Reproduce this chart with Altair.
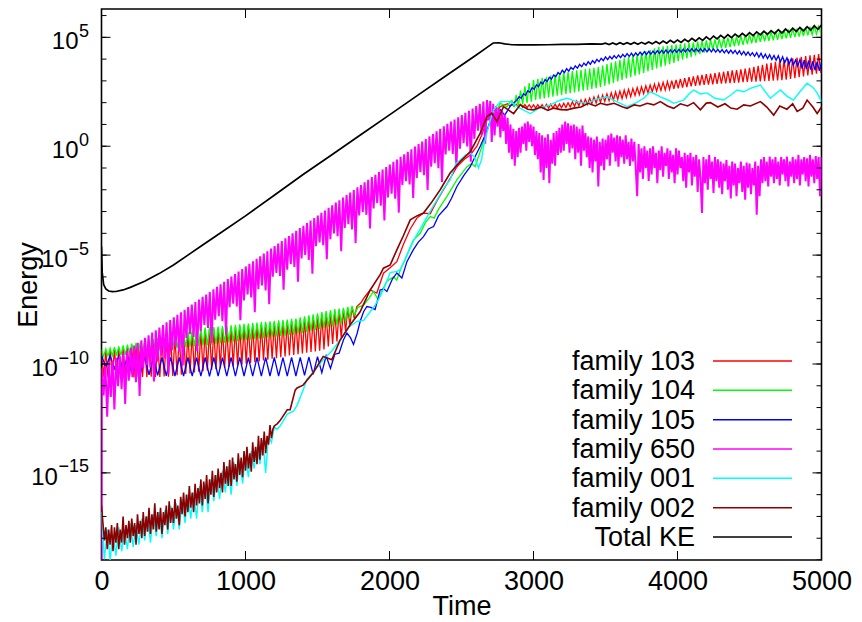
import altair as alt
import numpy as np
import pandas as pd

FONT = "Liberation Sans"

# ---------------- data: log10(Energy) ----------------
SERIES = ["family 103", "family 104", "family 105", "family 650",
          "family 001", "family 002", "Total KE"]
COLORS = ["#ff0000", "#00ff00", "#0000ff", "#ff00ff", "#00ffff", "#8b0000", "#000000"]
WIDTHS = [1.3, 1.3, 1.3, 2.0, 1.4, 1.6, 1.7]

# --- Total KE ---
ke_t = [0, 5, 15, 30, 50, 75, 100, 150, 200, 300,
        400, 500, 600, 700, 800, 1000, 1200, 1400, 1600, 1800,
        2000, 2200, 2400, 2600, 2680, 2720, 2760, 2800, 2850, 2900,
        3000, 3100, 3200, 3300, 3400, 3475]
ke_v = [-4.6, -5.8, -6.35, -6.55, -6.65, -6.68, -6.67, -6.6, -6.48, -6.2,
        -5.85, -5.45, -5.0, -4.55, -4.1, -3.2, -2.25, -1.3, -0.39, 0.53,
        1.44, 2.36, 3.27, 4.18, 4.55, 4.74, 4.75, 4.70, 4.66, 4.65,
        4.65, 4.66, 4.68, 4.68, 4.70, 4.69]
ke_late_v = [4.73, 4.67, 4.74, 4.67, 4.75, 4.68, 4.75, 4.68, 4.76, 4.68,
             4.77, 4.69, 4.79, 4.70, 4.81, 4.71, 4.83, 4.73, 4.86, 4.75,
             4.88, 4.77, 4.91, 4.80, 4.95, 4.83, 4.98, 4.86, 5.02, 4.89,
             5.06, 4.93, 5.09, 4.96, 5.12, 4.99, 5.15, 5.02, 5.18, 5.05,
             5.22, 5.08, 5.25, 5.11, 5.28, 5.14, 5.31, 5.17, 5.35, 5.20,
             5.38, 5.23, 5.42, 5.27, 5.45, 5.30, 5.49, 5.33, 5.53, 5.37, 5.56]

# --- family 104 (green) ---
g_early_v = [-9.35, -9.64, -9.31, -9.63, -9.27, -9.62, -9.23, -9.61, -9.19, -9.60,
             -9.15, -9.58, -9.11, -9.56, -9.07, -9.53, -9.03, -9.50, -8.99, -9.47,
             -8.95, -9.44, -8.90, -9.42, -8.86, -9.40, -8.81, -9.37, -8.77, -9.35,
             -8.72, -9.33, -8.68, -9.31, -8.63, -9.28, -8.59, -9.26, -8.54, -9.24,
             -8.50, -9.22, -8.46, -9.19, -8.41, -9.17, -8.37, -9.15, -8.33, -9.13,
             -8.32, -9.11, -8.30, -9.08, -8.28, -9.06, -8.26, -9.03, -8.24, -9.01,
             -8.22, -8.98, -8.20, -8.96, -8.18, -8.93, -8.16, -8.91, -8.14, -8.88,
             -8.12, -8.86, -8.10, -8.84, -8.08, -8.81, -8.06, -8.79, -8.04, -8.77,
             -8.02, -8.74, -8.00, -8.72, -7.98, -8.70, -7.96, -8.67, -7.93, -8.65,
             -7.91, -8.61, -7.86, -8.57, -7.81, -8.53, -7.76, -8.48, -7.72, -8.44,
             -7.67, -8.40, -7.62, -8.35, -7.57, -8.31, -7.53, -8.27, -7.48, -8.22,
             -7.45, -8.15, -7.42, -8.05, -7.38, -7.90, -7.33, -7.75]
g_mid_t = [1780, 1820, 1860, 1889, 1922, 1950, 1982, 2028, 2050, 2080,
           2109, 2140, 2167, 2213, 2250, 2283, 2310, 2340, 2399, 2468,
           2538, 2570, 2595, 2642, 2700, 2723, 2770, 2815, 2835]
g_mid_v = [-7.4, -7.3, -6.95, -6.67, -7.05, -6.6, -6.2, -6.0, -6.15, -5.6,
           -5.2, -4.7, -4.3, -4.0, -3.5, -3.23, -3.3, -2.9, -2.3, -1.55,
           -0.94, -0.8, -0.94, 0.0, 1.2, 1.36, 1.97, 1.82, 2.0]
g_late_v = [2.10, 1.80, 2.35, 1.85, 2.55, 1.92, 2.75, 1.98, 2.90, 2.05,
            3.04, 2.12, 3.09, 2.16, 3.14, 2.20, 3.19, 2.24, 3.24, 2.28,
            3.29, 2.32, 3.34, 2.36, 3.39, 2.40, 3.42, 2.44, 3.45, 2.47,
            3.48, 2.51, 3.51, 2.55, 3.54, 2.59, 3.57, 2.63, 3.60, 2.67,
            3.64, 2.71, 3.70, 2.78, 3.77, 2.84, 3.84, 2.91, 3.90, 2.97,
            3.97, 3.04, 4.04, 3.11, 4.10, 3.17, 4.17, 3.24, 4.23, 3.30,
            4.30, 3.37, 4.37, 3.44, 4.43, 3.50, 4.50, 3.57, 4.57, 3.64,
            4.59, 3.70, 4.61, 3.77, 4.64, 3.83, 4.67, 3.90, 4.69, 3.97,
            4.72, 4.03, 4.75, 4.10, 4.77, 4.17, 4.80, 4.23, 4.83, 4.30,
            4.86, 4.37, 4.88, 4.43, 4.91, 4.46, 4.94, 4.49, 4.96, 4.52,
            4.99, 4.55, 5.02, 4.59, 5.04, 4.62, 5.07, 4.65, 5.10, 4.69,
            5.12, 4.72, 5.15, 4.75, 5.18, 4.79, 5.20, 4.82, 5.23, 4.84,
            5.25, 4.86, 5.28, 4.89, 5.30, 4.92, 5.33, 4.95, 5.36, 4.98,
            5.38, 5.01, 5.41, 5.03, 5.43, 5.06, 5.46, 5.09, 5.49, 5.12,
            5.51, 5.15, 5.55, 5.18]

# --- family 103 (red) ---
r_early_v = [-9.45, -10.58, -9.41, -10.62, -9.37, -10.60, -9.33, -10.57, -9.29, -10.61,
             -9.25, -10.60, -9.21, -10.58, -9.17, -10.62, -9.13, -10.59, -9.09, -10.60,
             -9.05, -10.61, -9.00, -10.58, -8.96, -10.60, -8.91, -10.59, -8.87, -10.57,
             -8.82, -10.58, -8.78, -10.55, -8.73, -10.52, -8.69, -10.49, -8.64, -10.46,
             -8.60, -10.43, -8.56, -10.39, -8.51, -10.36, -8.47, -10.33, -8.43, -10.30,
             -8.42, -10.27, -8.40, -10.24, -8.38, -10.20, -8.36, -10.17, -8.34, -10.14,
             -8.32, -10.11, -8.30, -10.07, -8.28, -10.03, -8.26, -9.99, -8.24, -9.95,
             -8.22, -9.92, -8.20, -9.88, -8.18, -9.84, -8.16, -9.80, -8.14, -9.76,
             -8.12, -9.73, -8.10, -9.69, -8.08, -9.65, -8.06, -9.61, -8.03, -9.58,
             -8.01, -9.55, -7.96, -9.52, -7.91, -9.48, -7.86, -9.45, -7.82, -9.42,
             -7.77, -9.39, -7.72, -9.33, -7.67, -9.20, -7.63, -9.08, -7.58, -8.96,
             -7.55, -8.80, -7.50, -8.50, -7.45, -8.20, -7.40, -7.90]
r_mid_t = [1773, 1800, 1830, 1866, 1912, 1958, 2000, 2051, 2097, 2144,
           2190, 2236, 2283, 2330, 2375, 2420, 2468, 2520, 2561, 2607,
           2640, 2677, 2720, 2770, 2800]
r_mid_v = [-7.36, -7.2, -6.9, -6.6, -6.74, -5.83, -5.6, -5.3, -4.5, -3.8,
           -3.3, -3.07, -3.1, -2.5, -2.0, -1.5, -0.94, -0.6, -0.4, 0.0,
           0.5, 1.2, 1.6, 1.82, 1.9]
r_late_v = [1.95, 1.84, 1.94, 1.82, 1.93, 1.80, 1.92, 1.78, 1.91, 1.77,
            1.90, 1.76, 1.90, 1.75, 1.91, 1.75, 1.91, 1.75, 1.92, 1.75,
            1.93, 1.75, 1.93, 1.75, 1.94, 1.76, 1.97, 1.78, 2.00, 1.80,
            2.04, 1.83, 2.08, 1.86, 2.12, 1.89, 2.16, 1.92, 2.21, 1.96,
            2.26, 1.99, 2.31, 2.02, 2.35, 2.06, 2.40, 2.09, 2.45, 2.12,
            2.49, 2.15, 2.53, 2.19, 2.57, 2.24, 2.61, 2.28, 2.65, 2.33,
            2.69, 2.37, 2.73, 2.41, 2.77, 2.46, 2.81, 2.50, 2.85, 2.53,
            2.89, 2.56, 2.93, 2.58, 2.97, 2.61, 3.01, 2.64, 3.05, 2.66,
            3.09, 2.69, 3.13, 2.72, 3.17, 2.75, 3.21, 2.77, 3.25, 2.80,
            3.28, 2.82, 3.31, 2.83, 3.33, 2.84, 3.36, 2.86, 3.39, 2.87,
            3.42, 2.88, 3.45, 2.90, 3.48, 2.91, 3.50, 2.92, 3.53, 2.94,
            3.56, 2.95, 3.60, 2.96, 3.64, 2.97, 3.69, 2.98, 3.74, 2.99,
            3.79, 3.00, 3.83, 3.01, 3.88, 3.02, 3.93, 3.03, 3.97, 3.05,
            4.01, 3.09, 4.04, 3.13, 4.07, 3.17, 4.11, 3.21, 4.14, 3.25,
            4.17, 3.29, 4.20, 3.33, 4.23, 3.37]

# --- family 105 (blue) ---
b_early_v = [-9.60, -10.15, -9.62, -10.22, -9.64, -10.30, -9.66, -10.38, -9.68, -10.45,
             -9.68, -10.50, -9.69, -10.52, -9.70, -10.54, -9.70, -10.55, -9.70, -10.56,
             -9.70, -10.56, -9.71, -10.56, -9.70, -10.57, -9.70, -10.56, -9.71, -10.56,
             -9.70, -10.56, -9.70, -10.55, -9.71, -10.56, -9.70, -10.56, -9.70, -10.55,
             -9.70, -10.56, -9.71, -10.56, -9.70, -10.55, -9.70, -10.52, -9.68, -10.48,
             -9.66, -10.40, -9.62, -10.20, -9.55]
b_mid_t = [1650, 1680, 1704, 1730, 1750, 1775, 1796, 1820, 1843, 1870,
           1900, 1935, 1960, 1982, 2020, 2051, 2086, 2121, 2165, 2200,
           2236, 2270, 2306, 2340, 2399, 2430, 2468, 2520, 2561, 2600,
           2630, 2670, 2700, 2723, 2770, 2800, 2840, 2885]
b_mid_v = [-9.5, -8.9, -8.58, -8.8, -9.1, -8.6, -8.05, -7.6, -7.36, -7.4,
           -7.5, -6.6, -6.55, -6.67, -6.1, -5.82, -6.05, -5.3, -4.76, -4.4,
           -4.15, -3.8, -3.69, -3.2, -2.77, -2.4, -1.85, -1.3, -0.94, -0.4,
           0.0, 0.6, 1.15, 1.3, 1.67, 1.43, 1.85, 2.12]
b_late_v = [2.27, 2.20, 2.41, 2.34, 2.55, 2.48, 2.69, 2.62, 2.82, 2.73,
            2.95, 2.86, 3.06, 2.97, 3.17, 3.08, 3.27, 3.19, 3.38, 3.30,
            3.49, 3.38, 3.56, 3.45, 3.62, 3.52, 3.69, 3.58, 3.76, 3.65,
            3.82, 3.71, 3.88, 3.76, 3.93, 3.82, 3.99, 3.88, 4.04, 3.93,
            4.10, 3.98, 4.13, 4.01, 4.16, 4.04, 4.19, 4.07, 4.22, 4.10,
            4.25, 4.12, 4.27, 4.14, 4.29, 4.17, 4.32, 4.19, 4.34, 4.21,
            4.36, 4.23, 4.37, 4.24, 4.39, 4.26, 4.40, 4.27, 4.42, 4.28,
            4.43, 4.30, 4.44, 4.31, 4.45, 4.32, 4.46, 4.33, 4.47, 4.34,
            4.48, 4.34, 4.48, 4.34, 4.48, 4.34, 4.48, 4.33, 4.48, 4.33,
            4.47, 4.32, 4.45, 4.31, 4.44, 4.29, 4.42, 4.27, 4.41, 4.26,
            4.40, 4.23, 4.38, 4.20, 4.35, 4.18, 4.33, 4.16, 4.30, 4.13,
            4.30, 4.08, 4.27, 4.05, 4.23, 4.02, 4.20, 3.98, 4.17, 3.95,
            4.16, 3.88, 4.11, 3.83, 4.06, 3.78, 4.01, 3.73, 3.96, 3.68,
            3.98, 3.57, 3.95, 3.54, 3.93, 3.52, 3.90, 3.49, 3.88, 3.46,
            3.85]

# --- family 650 (magenta) ---
m_start_t = [0]
m_start_v = [-19.5]
m_grow_v = [-10.20, -11.44, -10.08, -12.42, -9.97, -11.51, -9.85, -12.09,
            -9.73, -11.02, -9.62, -11.16, -9.50, -11.84, -9.38, -10.77,
            -9.26, -10.60, -9.15, -10.84, -9.03, -11.47, -8.91, -10.20,
            -8.80, -10.04, -8.68, -10.17, -8.56, -10.80, -8.45, -9.89,
            -8.33, -9.62, -8.21, -9.75, -8.09, -10.43, -7.98, -9.37,
            -7.86, -9.20, -7.74, -9.43, -7.63, -10.07, -7.51, -8.80,
            -7.39, -8.63, -7.27, -8.76, -7.16, -9.40, -7.04, -8.48,
            -6.92, -8.21, -6.81, -8.35, -6.69, -9.03, -6.57, -7.96,
            -6.46, -7.80, -6.34, -8.03, -6.22, -8.66, -6.10, -7.39,
            -5.99, -7.23, -5.87, -7.36, -5.75, -7.99, -5.64, -7.08,
            -5.52, -6.81, -5.40, -6.94, -5.28, -7.62, -5.17, -6.56,
            -5.05, -6.39, -4.93, -6.62, -4.82, -7.26, -4.70, -5.99,
            -4.58, -5.82, -4.47, -5.96, -4.35, -6.59, -4.23, -5.67,
            -4.12, -5.41, -4.00, -5.54, -3.88, -6.22, -3.76, -5.15,
            -3.65, -4.99, -3.53, -5.22, -3.41, -5.85, -3.30, -4.59,
            -3.18, -4.42, -3.06, -4.55, -2.95, -5.19, -2.83, -4.27,
            -2.71, -4.00, -2.59, -4.13, -2.48, -4.82, -2.36, -3.75,
            -2.24, -3.58, -2.13, -3.82, -2.01, -4.45, -1.89, -3.18,
            -1.78, -3.02, -1.66, -3.15, -1.54, -3.78, -1.42, -2.86,
            -1.31, -2.60, -1.19, -2.73, -1.07, -3.41, -0.96, -2.35,
            -0.84, -2.18, -0.72, -2.41, -0.61, -3.05, -0.49, -1.78,
            -0.37, -1.61, -0.26, -1.75, -0.14, -2.38, -0.02, -1.46,
            0.10, -1.19, 0.21, -1.33, 0.33, -2.01, 0.45, -0.94,
            0.56, -0.78, 0.68, -1.01, 0.80, -1.64, 0.91, -0.38,
            1.03, -0.21, 1.13, -0.36, 1.23, -1.01, 1.33, -0.11,
            1.43, 0.14, 1.53, -0.01, 1.63, -0.71, 1.73, 0.34,
            1.85, 0.71, 1.95, 0.51, 2.05, 0.11, 2.12, 1.18]
m_late_v = [2.08, 0.2, 1.95, 0.5, 1.85, 0.9, 1.75, 0.4, 1.6, 0.7,
            1.45, 0.1, 1.3, -0.3, 1.0, -0.6, 0.8, -0.9, 0.7, -0.5,
            0.85, -0.3, 0.9, 0.1, 1.05, -0.2, 1.13, 0.2, 1.0, 0.0,
            0.9, -0.4, 0.7, -0.6, 0.6, -1.2, 0.5, -1.55, 0.4, -1.0,
            0.55, -1.7, 0.3, -0.8, 0.6, -0.9, 0.7, -0.4, 0.85, -0.3,
            1.0, -0.2, 1.13, 0.1, 1.05, -0.3, 0.95, -0.1, 1.0, -0.6,
            0.9, -0.3, 0.8, -0.9, 0.95, -0.2, 0.6, -0.5, 0.45, -1.0,
            0.4, -1.2, 0.3, -0.7, 0.44, -1.85, 0.2, -0.9, 0.35, -1.1,
            0.3, -0.6, 0.5, -0.9, 0.58, -0.3, 0.4, -0.7, 0.5, -0.94,
            0.45, -0.5, 0.3, -0.8, 0.5, -0.6, 0.2, -0.9, 0.35, -0.7,
            0.2, -1.0, -2.3, 0.1, -1.2, -0.1, -1.5, 0.0, -1.0, -0.2,
            -1.6, -0.1, -1.3, 0.0, -1.0, -0.3, -1.7, -0.2, -1.1, 0.0,
            -1.4, -0.3, -0.9, -0.1, -1.5, -0.2, -1.2, -0.4, -1.7, -0.1,
            -1.3, -0.2, -1.0, -0.5, -1.6, -0.3, -1.9, -0.4, -1.2, -0.3,
            -1.8, -0.5, -1.4, -0.4, -2.1, -0.6, -1.5, -3.06, -0.5, -1.7,
            -0.6, -2.0, -0.4, -1.5, -0.7, -2.15, -0.5, -1.6, -0.6, -1.9,
            -0.7, -2.2, -0.8, -1.6, -0.63, -2.0, -0.9, -2.4, -0.7, -1.8,
            -0.8, -2.3, -1.0, -1.7, -0.7, -2.1, -0.9, -2.46, -0.75, -1.9,
            -0.8, -2.2, -1.0, -1.8, -0.7, -3.15, -0.9, -2.3, -0.6, -1.7,
            -0.5, -1.6, -0.7, -1.85, -0.48, -1.4, -0.6, -1.7, -0.5, -1.5,
            -0.7, -1.8, -0.5, -1.3, -0.6, -1.6, -0.48, -1.85, -0.7, -1.4,
            -0.5, -1.7, -0.6, -1.5, -0.4, -1.8, -0.6, -1.3, -0.5, -1.6,
            -0.55, -1.85, -0.4, -1.4, -0.6, -1.7, -0.45, -1.5, -0.5, -2.3,
            -0.5]

# --- family 001 (cyan) ---
c_early_v = [-16.8, -19.0, -17.6, -19.0, -17.8, -18.8, -17.5, -18.6, -17.6, -18.5,
             -17.3, -18.4, -17.4, -18.3, -17.1, -18.1, -17.0, -18.2, -16.9, -17.9,
             -16.8, -18.0, -16.7, -17.8, -16.5, -17.6, -16.4, -17.6, -16.2, -17.3,
             -16.0, -17.1, -15.9, -17.1, -15.6, -16.8, -15.5, -16.8, -15.3, -16.3,
             -15.1, -16.2, -14.9, -15.9, -14.7, -16.0, -14.5, -15.6, -14.4, -15.5,
             -14.2, -15.2, -14.0, -14.8, -13.8, -14.6, -13.5, -15.0, -13.3, -13.6,
             -12.9, -13.0]
c_late_t = [1240, 1290, 1333, 1358, 1400, 1426, 1480, 1540, 1600, 1657,
            1720, 1773, 1820, 1866, 1900, 1935, 1970, 2005, 2051, 2075,
            2121, 2170, 2236, 2290, 2329, 2380, 2421, 2460, 2491, 2530,
            2561, 2590, 2618, 2640, 2653, 2680, 2700, 2723, 2770, 2839,
            2908, 2978, 3040, 3117, 3180, 3233, 3300, 3372, 3430, 3510,
            3560, 3650, 3700, 3765, 3811, 3835, 3881, 3940, 3973, 4043,
            4080, 4112, 4160, 4205, 4260, 4321, 4370, 4414, 4460, 4506,
            4576, 4610, 4645, 4680, 4715, 4760, 4805, 4850, 4900, 4940,
            4970, 5000]
c_late_v = [-12.85, -12.3, -12.17, -11.9, -11.2, -10.7, -10.3, -9.8, -9.4, -8.9,
            -8.3, -8.05, -8.0, -7.6, -7.3, -6.9, -6.4, -5.8, -5.75, -5.67,
            -5.0, -4.3, -3.53, -2.9, -2.46, -1.9, -1.55, -0.8, -0.63, -0.4,
            -0.32, -0.5, -1.0, -0.6, 0.0, 0.7, 1.2, 1.67, 2.05, 2.05,
            1.74, 1.5, 1.75, 1.9, 2.1, 2.2, 2.05, 1.97, 2.15, 2.27,
            2.1, 1.82, 1.95, 2.2, 2.5, 2.43, 2.27, 2.1, 1.97, 2.12,
            2.4, 2.58, 2.4, 2.45, 2.2, 2.12, 2.35, 2.58, 2.5, 2.66,
            2.81, 2.5, 2.2, 2.4, 2.58, 2.3, 2.12, 2.5, 2.89, 2.7,
            2.45, 2.05]

# --- family 002 (dark red) ---
d_early_v = [-16.5, -17.3, -18.1, -17.5, -18.5, -17.6, -18.3, -17.4, -18.6, -17.5,
             -18.2, -17.3, -18.5, -17.6, -18.2, -17.0, -18.3, -17.4, -18.0, -17.2,
             -18.2, -17.1, -17.9, -17.3, -18.3, -16.9, -17.8, -17.2, -18.0, -16.8,
             -17.9, -17.0, -17.7, -16.6, -17.8, -16.9, -17.6, -16.4, -17.7, -16.8,
             -17.6, -16.6, -17.8, -16.8, -17.4, -16.5, -17.6, -16.3, -17.3, -16.6,
             -17.3, -16.2, -17.1, -16.5, -17.4, -16.1, -16.9, -15.9, -17.0, -16.0,
             -16.8, -15.6, -16.6, -15.9, -16.8, -15.5, -16.5, -15.7, -16.4, -15.3,
             -16.5, -15.4, -16.2, -15.1, -16.4, -15.3, -16.0, -14.9, -16.1, -15.1,
             -15.9, -14.8, -15.7, -15.0, -15.9, -14.5, -15.5, -14.7, -15.6, -14.4,
             -15.6, -14.3, -15.3, -14.6, -15.4, -14.1, -15.1, -14.3, -15.2, -14.0,
             -14.9, -13.8, -14.8, -14.1, -14.95, -13.6, -14.5, -13.8, -14.6, -13.3,
             -14.4, -13.4, -14.2, -13.1, -14.1, -13.3, -13.7, -12.8, -13.4, -13.0,
             -12.85, -12.8, -12.75]
d_late_t = [1240, 1290, 1310, 1345, 1358, 1400, 1470, 1540, 1600, 1657,
            1727, 1796, 1866, 1935, 1958, 2005, 2051, 2097, 2144, 2190,
            2236, 2290, 2352, 2421, 2491, 2561, 2630, 2677, 2711, 2746,
            2792, 2862, 2908, 2960, 3000, 3050, 3100, 3140, 3190, 3233,
            3280, 3330, 3380, 3430, 3464, 3510, 3560, 3620, 3650, 3700,
            3740, 3790, 3835, 3881, 3930, 3973, 4020, 4070, 4112, 4159,
            4200, 4228, 4280, 4330, 4370, 4414, 4460, 4506, 4576, 4620,
            4668, 4710, 4760, 4800, 4831, 4870, 4900, 4940, 4970, 5000]
d_late_v = [-12.6, -12.1, -12.1, -11.2, -11.1, -10.97, -10.4, -9.65, -9.8, -8.9,
            -8.2, -7.6, -6.6, -5.9, -5.6, -5.45, -4.76, -4.1, -3.38, -3.2,
            -3.07, -2.6, -2.0, -1.23, -0.7, -0.25, 0.6, 1.36, 1.52, 1.13,
            1.82, 1.5, 1.9, 1.7, 1.67, 1.8, 1.65, 1.75, 1.68, 1.67,
            1.75, 1.8, 1.97, 1.85, 1.97, 1.9, 1.97, 1.8, 1.74, 1.9,
            1.85, 1.97, 1.9, 2.05, 1.85, 1.74, 1.95, 1.85, 2.0, 1.67,
            1.98, 2.0, 1.8, 1.95, 1.75, 1.7, 1.9, 1.85, 2.05, 1.8,
            1.43, 1.85, 1.7, 1.95, 1.6, 1.75, 2.12, 1.8, 1.5, 1.8]

# axis ticks / labels
X_TICKS = [0, 1000, 2000, 3000, 4000, 5000]
Y_MAJOR_EXP = [5, 0, -5, -10, -15]
Y_MINOR_EXP = list(range(-19, 7))


# ---------------- assemble ----------------
def even(t0, dt, vals):
    return [t0 + dt * i for i in range(len(vals))]


rows = []


def add(name, ts, vs):
    assert len(ts) == len(vs), (name, len(ts), len(vs))
    for t, v in zip(ts, vs):
        rows.append((name, float(t), 10.0 ** v))


add("Total KE", ke_t, ke_v)
add("Total KE", even(3500, 25, ke_late_v), ke_late_v)
add("family 104", even(0, 15, g_early_v), g_early_v)
add("family 104", g_mid_t, g_mid_v)
add("family 104", even(2850, 15, g_late_v), g_late_v)
add("family 103", even(0, 15, r_early_v), r_early_v)
add("family 103", r_mid_t, r_mid_v)
add("family 103", even(2820, 15, r_late_v), r_late_v)
add("family 105", even(0, 30, b_early_v), b_early_v)
add("family 105", b_mid_t, b_mid_v)
add("family 105", even(2900, 15, b_late_v), b_late_v)
add("family 650", m_start_t, m_start_v)
add("family 650", even(2, 12.5, m_grow_v), m_grow_v)
add("family 650", even(2700, 10, m_late_v), m_late_v)
add("family 001", even(0, 20, c_early_v), c_early_v)
add("family 001", c_late_t, c_late_v)
add("family 002", even(0, 10, d_early_v), d_early_v)
add("family 002", d_late_t, d_late_v)

df = pd.DataFrame(rows, columns=["series", "t", "E"])

W, H = 720, 551

xaxis = alt.Axis(values=X_TICKS, format="d", ticks=False, tickSize=0, domain=False, grid=False,
                 labelFlush=False, labelOverlap=False, labelFontSize=27, labelFont=FONT,
                 labelColor="black", labelPadding=8,
                 title="Time", titleFontSize=27, titleFont=FONT, titleFontWeight="normal",
                 titleColor="black", titleY=54, titleBaseline="alphabetic")
yaxis = alt.Axis(values=[10.0 ** e for e in Y_MAJOR_EXP], labels=False, ticks=False,
                 tickSize=0, domain=False, grid=False,
                 title="Energy", titleFontSize=27, titleFont=FONT, titleFontWeight="normal",
                 titleColor="black", titleAngle=270, titleX=-65.5, titleY=275.5,
                 titleAlign="center", titleBaseline="alphabetic")

xs = alt.Scale(domain=[0, 5000], nice=False, zero=False)
ys = alt.Scale(type="log", domain=[1e-19, 2e6], nice=False)
X = alt.X("t:Q", scale=xs, axis=xaxis)
Y = alt.Y("E:Q", scale=ys, axis=yaxis)

layers = []
for name, color, w in zip(SERIES, COLORS, WIDTHS):
    layers.append(
        alt.Chart(df[df.series == name]).mark_line(color=color, strokeWidth=w, clip=True)
        .encode(x=X, y=Y)
    )

# inward ticks on all four sides (gnuplot style)
minor = alt.Chart(pd.DataFrame({"E": [10.0 ** e for e in Y_MINOR_EXP]})).mark_rule(
    color="black", strokeWidth=1, clip=True)
major = alt.Chart(pd.DataFrame({"E": [10.0 ** e for e in Y_MAJOR_EXP]})).mark_rule(
    color="black", strokeWidth=1)
xt = alt.Chart(pd.DataFrame({"t": X_TICKS[1:-1]})).mark_rule(color="black", strokeWidth=1)
layers += [
    minor.encode(y=Y, x=alt.value(0), x2=alt.value(5)),
    minor.encode(y=Y, x=alt.value(W - 5), x2=alt.value(W)),
    major.encode(y=Y, x=alt.value(0), x2=alt.value(9)),
    major.encode(y=Y, x=alt.value(W - 9), x2=alt.value(W)),
    xt.encode(x=X, y=alt.value(H), y2=alt.value(H - 9)),
    xt.encode(x=X, y=alt.value(0), y2=alt.value(9)),
]

# y tick labels "10" with a raised exponent
BASE_FS, EXP_FS = 24, 18
for e in Y_MAJOR_EXP:
    s = str(e).replace("-", "\u2212")
    w_exp = sum(0.584 if c == "\u2212" else 0.556 for c in s) * EXP_FS
    d = pd.DataFrame({"E": [10.0 ** e], "base": ["10"], "exp": [s]})
    layers.append(
        alt.Chart(d).mark_text(align="right", baseline="alphabetic", fontSize=BASE_FS,
                               font=FONT, color="black", dy=12)
        .encode(y=Y, x=alt.value(-12.5 - w_exp - 0.5), text="base:N")
    )
    layers.append(
        alt.Chart(d).mark_text(align="right", baseline="alphabetic", fontSize=EXP_FS,
                               font=FONT, color="black", dy=-0.5)
        .encode(y=Y, x=alt.value(-12.5), text="exp:N")
    )

# gnuplot-style key: right-aligned text followed by a line sample
for i, (name, color) in enumerate(zip(SERIES, COLORS)):
    d = pd.DataFrame({"label": [name]})
    layers.append(
        alt.Chart(d).mark_text(align="right", baseline="alphabetic", fontSize=27, font=FONT,
                               color="black")
        .encode(text="label:N", x=alt.value(593.5), y=alt.value(361 + 29.33 * i))
    )
    layers.append(
        alt.Chart(d).mark_rule(color=color, strokeWidth=1.5)
        .encode(x=alt.value(611.5), x2=alt.value(690.5), y=alt.value(352 + 29.33 * i))
    )

chart = (
    alt.layer(*layers)
    .properties(width=W, height=H,
                padding={"left": 93.5, "top": 1, "right": 30, "bottom": 60},
                autosize=alt.AutoSizeParams(type="none"))
    .configure(font=FONT)
    .configure_view(stroke="black", strokeWidth=1.6)
)

chart.save("out.html", embed_options={"renderer": "svg", "actions": False})
